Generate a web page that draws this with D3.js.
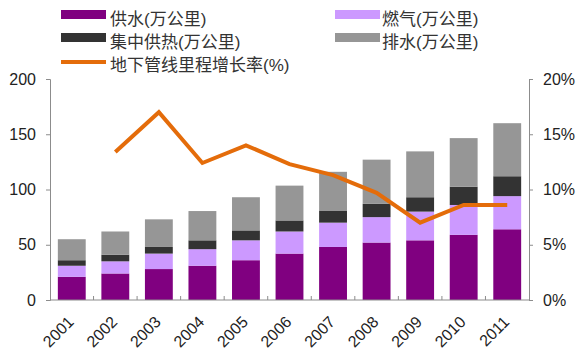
<!DOCTYPE html>
<html><head><meta charset="utf-8">
<script src="https://cdn.jsdelivr.net/npm/d3@7"></script>
<style>
body{margin:0;background:#fff;}
svg{display:block;font-family:"Liberation Sans",Arial,"Noto Sans CJK SC",sans-serif;}
</style></head>
<body><svg id="c" width="581" height="356"></svg>
<script>
const years = ["2001","2002","2003","2004","2005","2006","2007","2008","2009","2010","2011"];
const supply = [21, 24, 28, 31, 36, 42, 48, 52, 54, 59, 64];
const gas    = [10, 11, 14, 15, 18, 20, 22, 23, 26, 27, 30];
const heat   = [5, 6, 6, 8, 9, 10, 11, 12, 13, 16.5, 18];
const drain  = [19, 21, 25, 26.5, 30, 31.5, 35, 40, 41.5, 44, 48];
const growth = [null, 13.4, 17.0, 12.4, 14.0, 12.3, 11.3, 9.7, 7.0, 8.6, 8.6];
const leftTicks = [0, 50, 100, 150, 200];
const rightTicks = [0, 5, 10, 15, 20];
const seriesNames = ["供水(万公里)", "燃气(万公里)", "集中供热(万公里)", "排水(万公里)"];
const lineName = "地下管线里程增长率(%)";
const colors = ["#800080", "#CC99FF", "#333333", "#969696"];
const lineColor = "#E46C0A";

(function () {
const svg = d3.select("#c");
const mLeft = 50, mRight = 529, mTop = 79, mBottom = 300;
const x = d3.scaleBand().domain(years).range([mLeft, mRight]).paddingInner(0.36).paddingOuter(0.18);
const y = d3.scaleLinear().domain([0, 200]).range([mBottom, mTop]);
const y2 = d3.scaleLinear().domain([0, 20]).range([mBottom, mTop]);

const rows = years.map((yr, i) => ({year: yr, s0: supply[i], s1: gas[i], s2: heat[i], s3: drain[i]}));
const stack = d3.stack().keys(["s0","s1","s2","s3"])(rows);
svg.append("g").selectAll("g").data(stack).join("g")
  .attr("fill", (d, i) => colors[i])
  .selectAll("rect").data(d => d).join("rect")
  .attr("x", d => x(d.data.year))
  .attr("width", x.bandwidth())
  .attr("y", d => y(d[1]))
  .attr("height", d => y(d[0]) - y(d[1]));

const axisColor = "#8c8c8c";
const textColor = "#222";
const ga = svg.append("g").attr("transform", `translate(${mLeft},0)`)
  .call(d3.axisLeft(y).tickValues(leftTicks).tickSize(4).tickPadding(10));
const gb = svg.append("g").attr("transform", `translate(${mRight},0)`)
  .call(d3.axisRight(y2).tickValues(rightTicks).tickSize(4).tickPadding(10).tickFormat(d => d + "%"));
[ga, gb].forEach(g => {
  g.select(".domain").attr("stroke", axisColor);
  g.selectAll(".tick line").attr("stroke", axisColor);
  g.selectAll(".tick text").attr("fill", textColor).style("font-size", "16px").style("font-family", '"Liberation Sans",Arial,sans-serif');
});
const gx = svg.append("g").attr("transform", `translate(0,${mBottom})`);
gx.append("line").attr("x1", mLeft).attr("x2", mRight).attr("stroke", axisColor);
const step = x.step();
const bounds = d3.range(1, years.length).map(i => x(years[i]) - (step - x.bandwidth()) / 2);
gx.selectAll("line.t").data(bounds).join("line").attr("class", "t")
  .attr("x1", d => d).attr("x2", d => d).attr("y1", 0).attr("y2", -4).attr("stroke", axisColor);
gx.selectAll("text").data(years).join("text")
  .attr("transform", d => `translate(${x(d) + x.bandwidth() / 2 + 3},${23}) rotate(-45)`)
  .attr("text-anchor", "end")
  .attr("fill", textColor)
  .style("font-size", "16px")
  .text(d => d);

const pts = years.map((yr, i) => ({year: yr, v: growth[i]})).filter(d => d.v !== null);
svg.append("path").datum(pts)
  .attr("fill", "none").attr("stroke", lineColor).attr("stroke-width", 4).attr("stroke-linejoin", "miter")
  .attr("d", d3.line().x(d => x(d.year) + x.bandwidth() / 2).y(d => y2(d.v)));

const leg = svg.append("g").style("font-size", "17px").attr("fill", "#333");
const legPos = [[61, 10, 110], [335, 10, 382], [61, 33, 110], [335, 33, 382]];
seriesNames.forEach((n, i) => {
  const [lx, ly, tx] = legPos[i];
  leg.append("rect").attr("x", lx).attr("y", ly).attr("width", 45).attr("height", 9).attr("fill", colors[i]);
  leg.append("text").attr("x", tx).attr("y", ly + 15).text(n);
});
leg.append("line").attr("x1", 61).attr("x2", 106).attr("y1", 62).attr("y2", 62).attr("stroke", lineColor).attr("stroke-width", 4);
leg.append("text").attr("x", 110).attr("y", 71).text(lineName);
})();
</script></body></html>
